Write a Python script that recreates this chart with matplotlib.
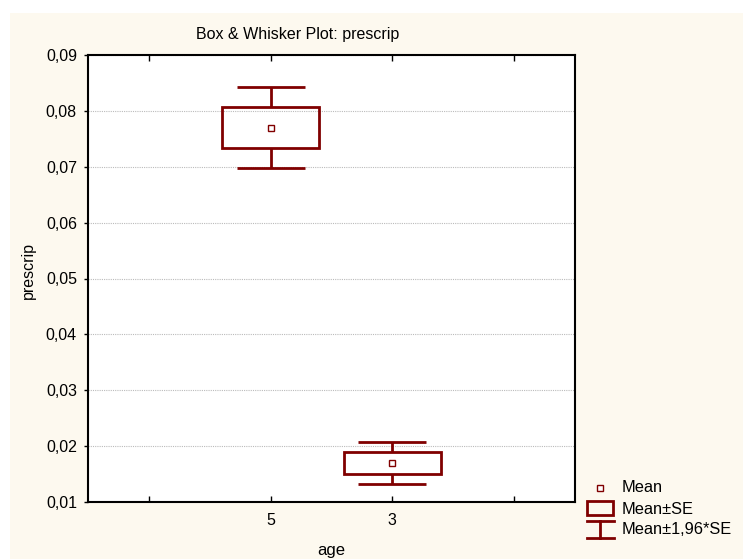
import matplotlib
matplotlib.use("Agg")
import matplotlib.pyplot as plt
from matplotlib.patches import Rectangle
from matplotlib.lines import Line2D
from matplotlib.ticker import FuncFormatter
import numpy as np

# data
groups = ['5', '3']
group_pos = [1, 2]
means = [0.0770, 0.0170]
se = [0.0037, 0.0019]

plt.rcParams['font.family'] = ['Liberation Sans', 'DejaVu Sans']
plt.rcParams['font.size'] = 11.5

W, H = 743, 559
red = '#800000'
cream = '#FDF9EF'

fig = plt.figure(figsize=(W / 100, H / 100), dpi=100)
fig.patch.set_facecolor('white')

def px(x, y):
    return x / W, 1 - y / H

# cream panel behind everything
fig.patches.append(Rectangle(px(10, H), (W - 10) / W, (H - 13) / H,
                             transform=fig.transFigure, facecolor=cream,
                             edgecolor='none', zorder=-10))

ax = fig.add_axes([88 / W, (H - 502) / H, (575 - 88) / W, (502 - 55) / H])
ax.set_facecolor('white')

means = np.array(means)
se = np.array(se)
for x, m, s in zip(group_pos, means, se):
    lo1, hi1 = m - s, m + s
    lo2, hi2 = m - 1.96 * s, m + 1.96 * s
    ax.add_patch(Rectangle((x - 0.4, lo1), 0.8, hi1 - lo1, facecolor='none',
                           edgecolor=red, linewidth=2, zorder=3))
    ax.vlines(x, hi1, hi2, color=red, linewidth=2, zorder=3)
    ax.vlines(x, lo2, lo1, color=red, linewidth=2, zorder=3)
    ax.hlines([lo2, hi2], x - 0.28, x + 0.28, color=red, linewidth=2, zorder=3)
    ax.plot(x, m, marker='s', markersize=5, markerfacecolor='white',
            markeredgecolor=red, markeredgewidth=1, zorder=4)

ax.set_xlim(-0.5, 3.5)
ax.set_ylim(0.01, 0.09)
ax.set_xticks([0, 1, 2, 3])
ax.set_xticklabels(['', groups[0], groups[1], ''])
ax.set_yticks(np.arange(0.01, 0.0901, 0.01))
ax.yaxis.set_major_formatter(FuncFormatter(lambda v, p: f"{v:.2f}".replace('.', ',')))
ax.yaxis.grid(True, color='#bbbbbb', linestyle=(0, (1, 1)), linewidth=0.8)
ax.set_axisbelow(True)

for sp in ax.spines.values():
    sp.set_linewidth(1.5)
ax.tick_params(axis='y', direction='out', length=3, width=1, left=True, right=False,
               pad=5, labelsize=11.5)
ax.tick_params(axis='x', direction='in', length=4, width=1, top=True, bottom=True,
               pad=8, labelsize=11.5)

fig.text(*px(298, 35), 'Box & Whisker Plot: prescrip', ha='center', va='center', fontsize=11.5)
fig.text(*px(28, 270), 'prescrip', rotation=90, ha='center', va='center', fontsize=11.5)
fig.text(*px(331, 551), 'age', ha='center', va='center', fontsize=12)

# legend, drawn by hand outside the plot area
lk = dict(transform=fig.transFigure, color=red, linewidth=2)
fig.add_artist(Line2D(*zip(px(600, 488)), marker='s', markersize=5, markerfacecolor='white',
                      markeredgecolor=red, markeredgewidth=1, linestyle='none',
                      transform=fig.transFigure))
fig.add_artist(Rectangle(px(587, 515), 26 / W, 14 / H, transform=fig.transFigure,
                         facecolor='none', edgecolor=red, linewidth=2))
fig.add_artist(Line2D(*zip(px(587, 521), px(614, 521)), **lk))
fig.add_artist(Line2D(*zip(px(587, 538), px(614, 538)), **lk))
fig.add_artist(Line2D(*zip(px(600, 521), px(600, 538)), **lk))
fig.text(*px(622, 488), 'Mean', va='center', fontsize=11.8)
fig.text(*px(622, 509), 'Mean±SE', va='center', fontsize=11.8)
fig.text(*px(622, 530), 'Mean±1,96*SE', va='center', fontsize=11.8)

fig.savefig('out.png', dpi=100)
